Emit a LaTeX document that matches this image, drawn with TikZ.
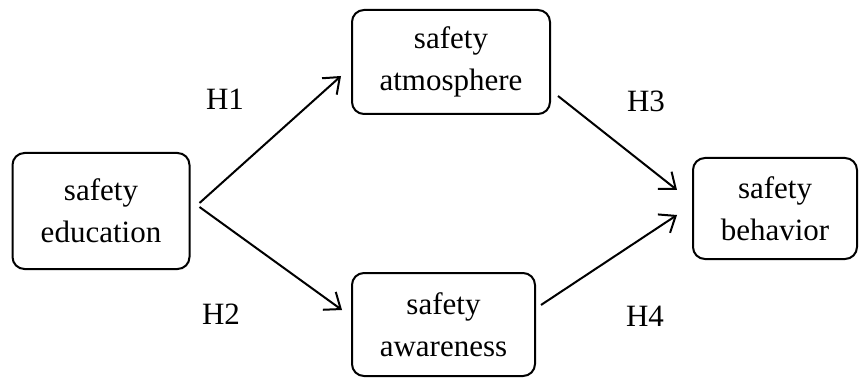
\documentclass[tikz,border=0pt]{standalone}
\usepackage{fontspec}
\setmainfont{Liberation Serif}
\usetikzlibrary{arrows.meta,positioning,calc}

\begin{document}
\begin{tikzpicture}[x=1pt,y=1pt,
  factor/.style={draw, line width=2pt, rounded corners=12pt, align=center, inner sep=0pt,
    font=\fontsize{31}{42}\selectfont},
  hypo/.style={-{Straight Barb[length=14pt,width=22pt]}, line width=2pt},
  hlabel/.style={font=\fontsize{31}{36}\selectfont}]
\useasboundingbox (0,0) rectangle (859,378);

% factors
\node[factor, minimum width=177pt, minimum height=116pt] (edu) at (101,167) {safety\\education};
\node[factor, minimum width=198pt, minimum height=104pt] (atm) at (451,316) {safety\\atmosphere};
\node[factor, minimum width=183pt, minimum height=103pt] (awa) at (443.5,53.5) {safety\\awareness};
\node[factor, minimum width=164pt, minimum height=101pt] (beh) at (775,169.5) {safety\\behavior};

% hypotheses
\draw[hypo] ([shift={(9,8)}]edu.east) -- ([shift={(-10,-14)}]atm.west);
\draw[hypo] ([shift={(9,4)}]edu.east) -- ([shift={(-9,14.5)}]awa.west);
\draw[hypo] ([shift={(7,19)}]atm.south east) -- ([shift={(-15,18.5)}]beh.west);
\draw[hypo] ([shift={(5,-33)}]awa.north east) -- ([shift={(-15,-6.5)}]beh.west);

% labels
\node[hlabel] (h1) at (225,279) {H1};
\node[hlabel] (h2) at (221,64) {H2};
\node[hlabel] (h3) at (646,277) {H3};
\node[hlabel] (h4) at (645,62) {H4};
\end{tikzpicture}
\end{document}
